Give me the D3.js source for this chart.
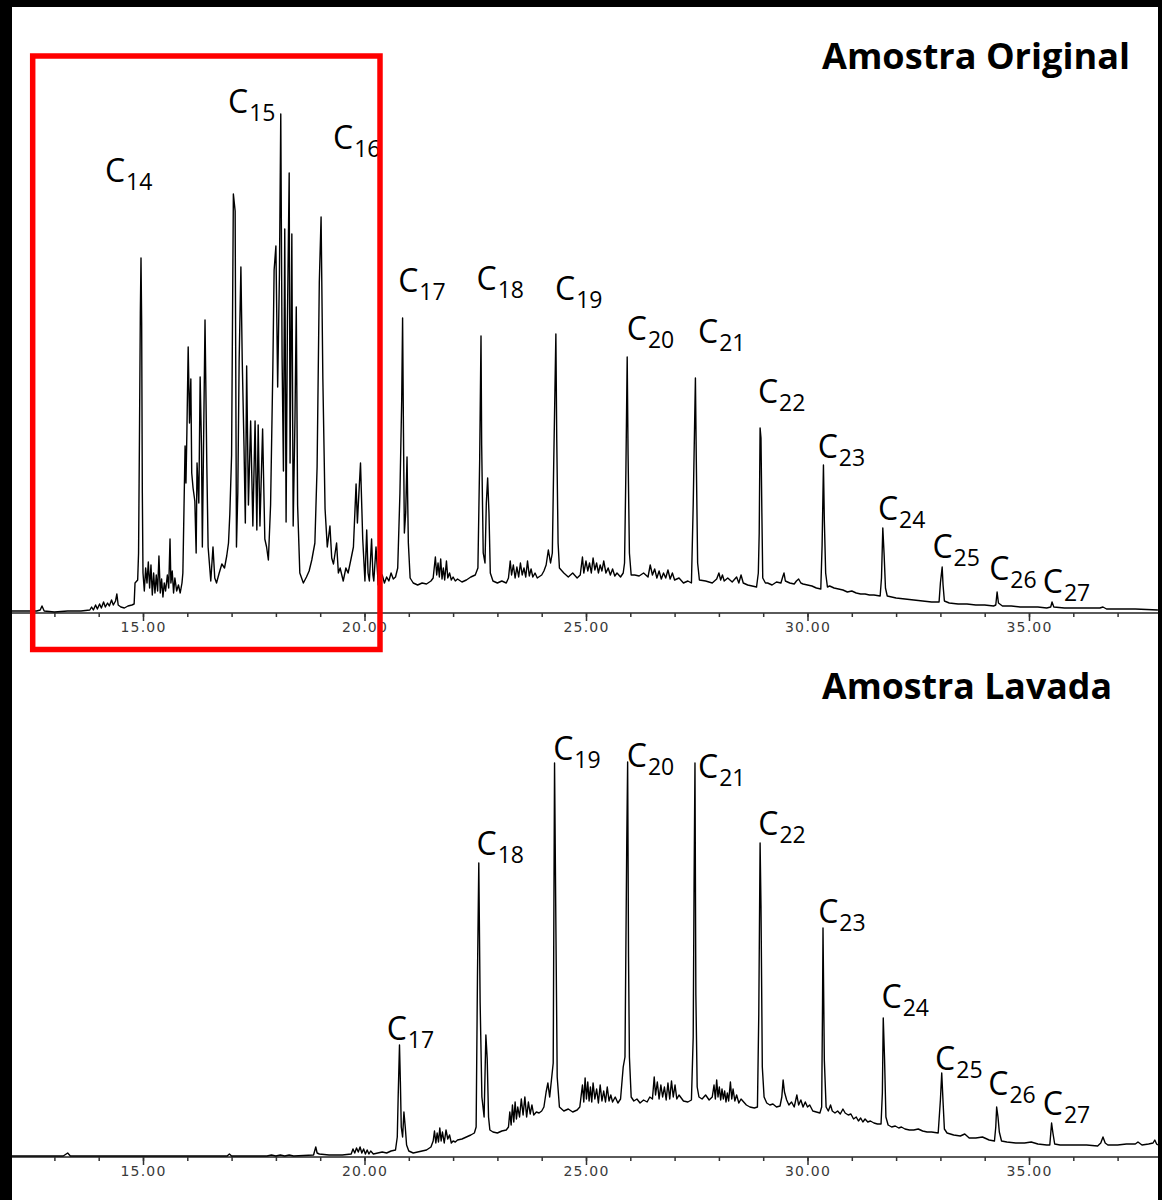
<!DOCTYPE html>
<html><head><meta charset="utf-8">
<script src="https://cdn.jsdelivr.net/npm/d3@7"></script>
<style>html,body{margin:0;padding:0;background:#fff;} svg{display:block;}</style>
</head><body>
<script>
// ---------- DATA ----------
const minorTicks = [12,13,14,15,16,17,18,19,20,21,22,23,24,25,26,27,28,29,30,31,32,33,34,35,36,37];
const majorTicks = [15,20,25,30,35];
const majorTickLabels = ["15.00","20.00","25.00","30.00","35.00"];
const panelTitles = ["Amostra Original","Amostra Lavada"];

// retention time (min), abundance (arbitrary units)
const originalTrace = [
[12.04,2],[12.60,2],[12.68,3],[12.72,7],[12.77,2],[13.00,1],[13.30,2],[13.60,2],[13.80,3],[13.84,6],[13.88,3],[13.93,8],[13.97,4],[14.02,9],[14.06,5],[14.11,11],[14.15,6],[14.20,10],[14.24,7],[14.29,13],[14.33,8],[14.38,12],[14.41,19],[14.44,8],[14.50,6],[14.58,5],[14.66,7],[14.75,8],[14.80,9],[14.82,30],[14.88,33],[14.90,60],[14.92,175],[14.94,300],[14.955,355],[14.97,290],[14.985,120],[15.00,40],
[15.03,22],[15.06,45],[15.09,30],[15.12,51],[15.15,25],[15.18,48],[15.21,18],[15.24,40],[15.27,20],[15.30,38],[15.33,22],[15.36,57],[15.39,20],[15.42,34],[15.45,16],[15.48,30],[15.51,22],[15.55,38],[15.58,25],[15.61,74],[15.63,30],[15.66,42],[15.69,20],[15.72,35],[15.76,22],[15.80,28],[15.84,20],[15.88,30],[15.90,40],
[15.95,167],[15.97,130],[15.99,179],[16.02,266],[16.05,190],[16.08,234],[16.10,140],[16.13,125],[16.17,112],[16.20,60],[16.22,150],[16.26,110],[16.29,236],[16.32,167],[16.34,66],[16.37,180],[16.40,293],[16.44,150],[16.47,66],[16.53,32],[16.58,66],[16.62,35],[16.66,30],[16.72,40],[16.78,49],[16.84,45],[16.89,57],[16.93,70],[16.96,99],[17.00,158],[17.04,419],[17.08,402],[17.11,66],[17.14,120],[17.17,251],[17.21,346],[17.24,253],[17.28,167],[17.31,90],[17.34,247],[17.38,108],[17.43,192],[17.48,87],[17.53,192],[17.57,83],[17.60,188],[17.64,87],[17.70,184],[17.75,74],[17.79,66],[17.83,53],[17.88,108],[17.93,242],[17.96,343],[18.00,367],[18.04,226],[18.08,339],[18.11,499],[18.14,255],[18.17,142],[18.20,384],[18.23,91],[18.26,293],[18.30,440],[18.32,150],[18.36,379],[18.39,87],[18.43,192],[18.46,306],[18.49,108],[18.54,40],[18.62,30],[18.69,36],[18.75,42],[18.81,53],[18.88,70],[18.93,146],[18.98,331],[19.02,396],[19.06,234],[19.11,104],[19.16,66],[19.22,87],[19.26,55],[19.30,49],[19.37,70],[19.41,40],[19.45,45],[19.52,32],[19.58,45],[19.63,40],[19.70,55],[19.75,66],[19.81,129],[19.84,90],[19.86,108],[19.91,150],[19.96,74],[20.01,32],[20.05,83],[20.08,40],[20.11,32],[20.16,74],[20.19,38],[20.21,32],[20.26,66],[20.31,28],
[20.35,33],[20.40,38],[20.45,30],[20.50,36],[20.55,32],[20.60,40],[20.65,34],[20.70,36],[20.75,45],[20.80,120],[20.84,213],[20.86,295],[20.88,180],[20.90,80],[20.93,100],[20.96,156],[20.99,70],[21.03,35],[21.10,30],[21.20,28],[21.30,30],[21.40,29],[21.50,32],[21.55,35],[21.60,56],[21.63,38],[21.66,50],[21.69,36],[21.72,54],[21.75,34],[21.78,45],[21.81,33],[21.85,52],[21.88,35],[21.92,40],[21.96,33],[22.00,36],[22.05,32],[22.10,34],[22.20,31],[22.30,33],[22.40,36],[22.50,38],[22.56,45],[22.60,153],[22.63,277],[22.645,168],[22.68,60],[22.72,50],[22.75,110],[22.78,135],[22.81,100],[22.84,40],[22.90,32],[23.00,30],[23.10,32],[23.20,30],[23.25,35],[23.29,52],[23.32,38],[23.36,48],[23.40,35],[23.44,46],[23.48,36],[23.52,50],[23.56,38],[23.60,45],[23.64,36],[23.68,52],[23.72,37],[23.76,44],[23.80,36],[23.85,40],[23.90,35],[24.00,38],[24.05,42],[24.10,48],[24.15,63],[24.20,50],[24.24,60],[24.27,146],[24.32,279],[24.34,173],[24.37,70],[24.40,45],[24.50,40],[24.60,36],[24.70,40],[24.80,35],[24.87,38],[24.92,56],[24.95,40],[25.00,52],[25.04,42],[25.08,50],[25.12,40],[25.16,55],[25.20,43],[25.24,50],[25.28,40],[25.32,48],[25.36,42],[25.40,52],[25.45,40],[25.50,45],[25.55,38],[25.60,44],[25.65,37],[25.70,40],[25.78,36],[25.84,40],[25.87,50],[25.90,140],[25.93,256],[25.95,158],[25.98,60],[26.02,38],[26.10,38],[26.20,37],[26.30,40],[26.40,36],[26.45,48],[26.50,38],[26.55,44],[26.60,35],[26.65,42],[26.70,34],[26.75,40],[26.80,35],[26.85,43],[26.90,34],[26.95,40],[27.00,33],[27.10,35],[27.20,30],[27.30,32],[27.38,30],[27.42,108],[27.47,235],[27.49,153],[27.52,50],[27.56,33],[27.70,32],[27.85,30],[27.95,34],[28.00,40],[28.04,33],[28.08,38],[28.12,32],[28.20,35],[28.30,31],[28.40,36],[28.45,30],[28.50,38],[28.55,30],[28.65,28],[28.75,27],[28.85,26],[28.89,40],[28.91,80],[28.93,185],[28.95,175],[28.97,100],[28.99,35],[29.05,30],[29.10,30],[29.20,28],[29.30,31],[29.40,30],[29.44,36],[29.47,40],[29.50,32],[29.60,30],[29.70,29],[29.75,32],[29.80,34],[29.85,30],[29.90,29],[30.00,28],[30.10,27],[30.20,25],[30.30,24],[30.33,68],[30.36,148],[30.38,93],[30.41,40],[30.45,26],[30.50,27],[30.60,25],[30.70,24],[30.80,23],[30.90,21],[31.00,22],[31.10,20],[31.20,19],[31.30,19],[31.40,18],[31.50,18],[31.64,17],[31.67,35],[31.70,85],[31.73,58],[31.76,25],[31.80,17],[31.90,16],[32.00,15],[32.20,14],[32.40,13],[32.60,12],[32.80,11],[32.97,11],[33.00,30],[33.04,46],[33.06,28],[33.09,12],[33.20,10],[33.40,9],[33.60,9],[33.80,8],[34.00,8],[34.20,7],[34.25,8],[34.28,21],[34.31,10],[34.40,7],[34.60,7],[34.80,6],[35.00,6],[35.20,6],[35.40,5],[35.49,6],[35.52,11],[35.56,6],[35.80,5],[36.20,5],[36.60,5],[36.67,6],[36.75,4],[37.00,4],[37.40,4],[37.91,3]
];

const washedTrace = [
[12.04,1],[13.20,1],[13.30,4],[13.36,1],[14.50,1],[16.90,1],[16.95,3],[17.00,1],[17.80,1],[17.90,2],[18.00,1],[18.10,2],[18.20,1],[18.30,2],[18.40,1],[18.85,2],[18.90,10],[18.93,4],[18.98,3],[19.20,2],[19.50,2],[19.70,3],[19.74,8],[19.78,4],[19.82,9],[19.86,5],[19.90,10],[19.94,4],[19.98,8],[20.02,3],[20.06,7],[20.10,3],[20.14,6],[20.20,3],[20.30,4],[20.40,5],[20.50,4],[20.60,6],[20.70,7],[20.74,20],[20.76,60],[20.79,112],[20.81,75],[20.83,30],[20.86,20],[20.89,45],[20.92,30],[20.95,12],[21.00,6],[21.10,4],[21.20,5],[21.30,6],[21.40,7],[21.50,10],[21.55,16],[21.58,26],[21.61,14],[21.64,24],[21.67,15],[21.70,29],[21.73,16],[21.76,25],[21.80,14],[21.84,27],[21.88,18],[21.92,22],[21.96,14],[22.00,16],[22.05,15],[22.10,17],[22.20,18],[22.30,20],[22.40,22],[22.48,24],[22.52,30],[22.55,180],[22.58,294],[22.61,155],[22.65,60],[22.70,40],[22.74,122],[22.77,98],[22.80,40],[22.83,27],[22.90,25],[23.00,24],[23.10,26],[23.20,27],[23.25,30],[23.28,45],[23.31,32],[23.34,52],[23.37,35],[23.40,55],[23.43,38],[23.46,50],[23.50,40],[23.54,58],[23.58,42],[23.62,60],[23.66,40],[23.70,55],[23.74,43],[23.78,52],[23.82,42],[23.88,45],[23.94,44],[24.00,46],[24.05,50],[24.10,65],[24.14,74],[24.18,60],[24.22,77],[24.26,94],[24.29,394],[24.32,232],[24.35,80],[24.40,50],[24.50,46],[24.60,48],[24.70,45],[24.80,47],[24.86,50],[24.92,72],[24.95,55],[24.98,79],[25.01,58],[25.04,75],[25.07,56],[25.10,70],[25.13,55],[25.16,74],[25.20,58],[25.24,68],[25.28,54],[25.32,72],[25.36,56],[25.40,66],[25.44,55],[25.48,70],[25.52,56],[25.56,62],[25.60,55],[25.66,60],[25.72,54],[25.78,58],[25.84,90],[25.88,100],[25.92,314],[25.94,395],[25.96,200],[25.98,100],[26.02,60],[26.08,56],[26.15,58],[26.22,54],[26.30,57],[26.38,55],[26.44,60],[26.50,58],[26.54,80],[26.57,62],[26.61,75],[26.65,58],[26.69,72],[26.73,60],[26.77,70],[26.81,57],[26.85,74],[26.89,58],[26.93,76],[26.97,60],[27.01,72],[27.05,58],[27.10,62],[27.20,56],[27.30,55],[27.38,57],[27.42,120],[27.44,274],[27.46,394],[27.48,162],[27.51,70],[27.55,60],[27.62,58],[27.70,62],[27.78,57],[27.85,60],[27.89,72],[27.92,58],[27.95,77],[27.98,60],[28.01,70],[28.04,57],[28.07,68],[28.10,58],[28.13,66],[28.16,55],[28.19,64],[28.22,56],[28.26,75],[28.29,58],[28.32,68],[28.36,56],[28.40,62],[28.45,54],[28.50,58],[28.56,55],[28.62,52],[28.70,50],[28.80,49],[28.87,50],[28.90,142],[28.93,314],[28.95,252],[28.98,90],[29.02,60],[29.08,54],[29.15,52],[29.22,53],[29.30,50],[29.38,51],[29.42,60],[29.45,77],[29.48,65],[29.53,57],[29.58,52],[29.64,55],[29.70,50],[29.76,62],[29.80,52],[29.85,57],[29.90,50],[29.95,55],[30.00,50],[30.05,52],[30.12,46],[30.20,45],[30.28,44],[30.32,50],[30.34,155],[30.35,229],[30.38,97],[30.42,50],[30.47,46],[30.52,52],[30.56,46],[30.62,44],[30.68,46],[30.74,43],[30.80,48],[30.85,44],[30.92,42],[30.98,43],[31.04,38],[31.10,40],[31.15,36],[31.20,39],[31.25,35],[31.30,38],[31.36,35],[31.42,36],[31.50,34],[31.58,33],[31.66,33],[31.69,64],[31.71,139],[31.74,97],[31.77,40],[31.82,32],[31.90,30],[31.98,31],[32.06,29],[32.12,30],[32.20,28],[32.30,27],[32.40,27],[32.50,28],[32.60,26],[32.70,25],[32.80,25],[32.95,24],[33.00,57],[33.03,84],[33.06,55],[33.09,28],[33.15,24],[33.30,22],[33.45,21],[33.55,23],[33.65,19],[33.80,19],[33.95,20],[34.10,17],[34.22,16],[34.25,30],[34.27,50],[34.30,40],[34.33,25],[34.38,16],[34.50,15],[34.70,14],[34.90,14],[35.05,15],[35.20,13],[35.40,12],[35.47,12],[35.51,34],[35.54,24],[35.58,13],[35.70,12],[35.90,12],[36.10,12],[36.30,12],[36.55,11],[36.62,14],[36.67,20],[36.72,14],[36.78,12],[37.00,12],[37.20,13],[37.40,13],[37.46,15],[37.55,12],[37.70,13],[37.80,14],[37.84,17],[37.88,13],[37.91,12]
];

// n-alkane peak labels: carbon number, anchor time, anchor abundance
const originalLabelCarbons = [14,15,16,17,18,19,20,21,22,23,24,25,26,27];
const originalLabelTimes   = [14.14,16.92,19.29,20.76,22.53,24.30,25.92,27.53,28.88,30.23,31.59,32.82,34.10,35.31];
const originalLabelValues  = [431,500,464,321,323,313,273,270,210,155,93,55,33,20];
const washedLabelCarbons = [17,18,19,20,21,22,23,24,25,26,27];
const washedLabelTimes   = [20.50,22.53,24.26,25.92,27.53,28.89,30.24,31.67,32.88,34.08,35.31];
const washedLabelValues  = [117,302,397,390,379,322,234,149,87,62,42];

// highlighted window (red box) in data units
const highlightTimes = [12.51, 20.35];
const highlightValues = [-36.5, 557];

// ---------- DRAW ----------
const W = 1162, H = 1200;
const svg = d3.select("body").append("svg").attr("width", W).attr("height", H)
  .style("background", "#fff");
svg.append("rect").attr("width", W).attr("height", H).attr("fill", "#fff");

const x = d3.scaleLinear().domain([12.043, 37.912]).range([12, 1158]);
const panels = [
  {trace: originalTrace, carbons: originalLabelCarbons, lt: originalLabelTimes, lv: originalLabelValues,
   y: d3.scaleLinear().domain([0, 500]).range([613, 113]), title: panelTitles[0], titleY: 69, titleW: 308},
  {trace: washedTrace, carbons: washedLabelCarbons, lt: washedLabelTimes, lv: washedLabelValues,
   y: d3.scaleLinear().domain([0, 500]).range([1157, 657]), title: panelTitles[1], titleY: 699, titleW: 290}
];

svg.append("defs").append("clipPath").attr("id", "plotclip")
  .append("rect").attr("x", 12).attr("y", 0).attr("width", 1146).attr("height", H);

panels.forEach(p => {
  const y0 = p.y(0);
  const g = svg.append("g");
  // axis line
  g.append("line").attr("x1", 12).attr("x2", 1158).attr("y1", y0).attr("y2", y0)
    .attr("stroke", "#5a5a5a").attr("stroke-width", 2);
  // minor ticks
  const minor = g.append("g").attr("transform", `translate(0,${y0})`)
    .call(d3.axisBottom(x).tickValues(minorTicks).tickSize(4).tickFormat(""));
  minor.select(".domain").remove();
  minor.selectAll(".tick line").attr("stroke", "#333").attr("stroke-width", 1.5);
  // major ticks + labels
  const major = g.append("g").attr("transform", `translate(0,${y0})`)
    .call(d3.axisBottom(x).tickValues(majorTicks).tickSize(8).tickPadding(1)
      .tickFormat((d, i) => majorTickLabels[i]));
  major.select(".domain").remove();
  major.selectAll(".tick line").attr("stroke", "#333").attr("stroke-width", 1.5);
  major.selectAll(".tick text").attr("font-family", "DejaVu Sans").attr("font-size", 14)
    .attr("letter-spacing", "1.2px").attr("fill", "#3a3a3a");

  // trace
  const line = d3.line().x(d => x(d[0])).y(d => p.y(d[1]));
  g.append("path").datum(p.trace).attr("d", line).attr("clip-path", "url(#plotclip)")
    .attr("fill", "none").attr("stroke", "#000").attr("stroke-width", 1.4)
    .attr("stroke-linejoin", "round");

  // labels
  p.carbons.forEach((c, i) => {
    const t = g.append("text").attr("x", x(p.lt[i])).attr("y", p.y(p.lv[i]))
      .attr("font-family", "'Open Sans', 'Noto Sans', sans-serif").attr("fill", "#000");
    t.append("tspan").attr("font-size", 32).text("C");
    t.append("tspan").attr("font-size", 23).attr("dy", 8).attr("dx", 1).text(String(c));
  });

  // title
  g.append("text").attr("x", 822).attr("y", p.titleY)
    .attr("font-family", "'Open Sans', 'Noto Sans', sans-serif").attr("font-weight", "bold")
    .attr("font-size", 36).attr("textLength", p.titleW).attr("lengthAdjust", "spacingAndGlyphs")
    .attr("fill", "#000").text(p.title);
});

// red highlight box
const yTop = panels[0].y;
svg.append("rect")
  .attr("x", x(highlightTimes[0])).attr("y", yTop(highlightValues[1]))
  .attr("width", x(highlightTimes[1]) - x(highlightTimes[0]))
  .attr("height", yTop(highlightValues[0]) - yTop(highlightValues[1]))
  .attr("fill", "none").attr("stroke", "#ff0000").attr("stroke-width", 5.5);

// frame
svg.append("rect").attr("x", 0).attr("y", 0).attr("width", 12).attr("height", H).attr("fill", "#000");
svg.append("rect").attr("x", 0).attr("y", 0).attr("width", W).attr("height", 7).attr("fill", "#000");
svg.append("rect").attr("x", 1158).attr("y", 0).attr("width", 4).attr("height", H).attr("fill", "#000");
</script>
</body></html>
